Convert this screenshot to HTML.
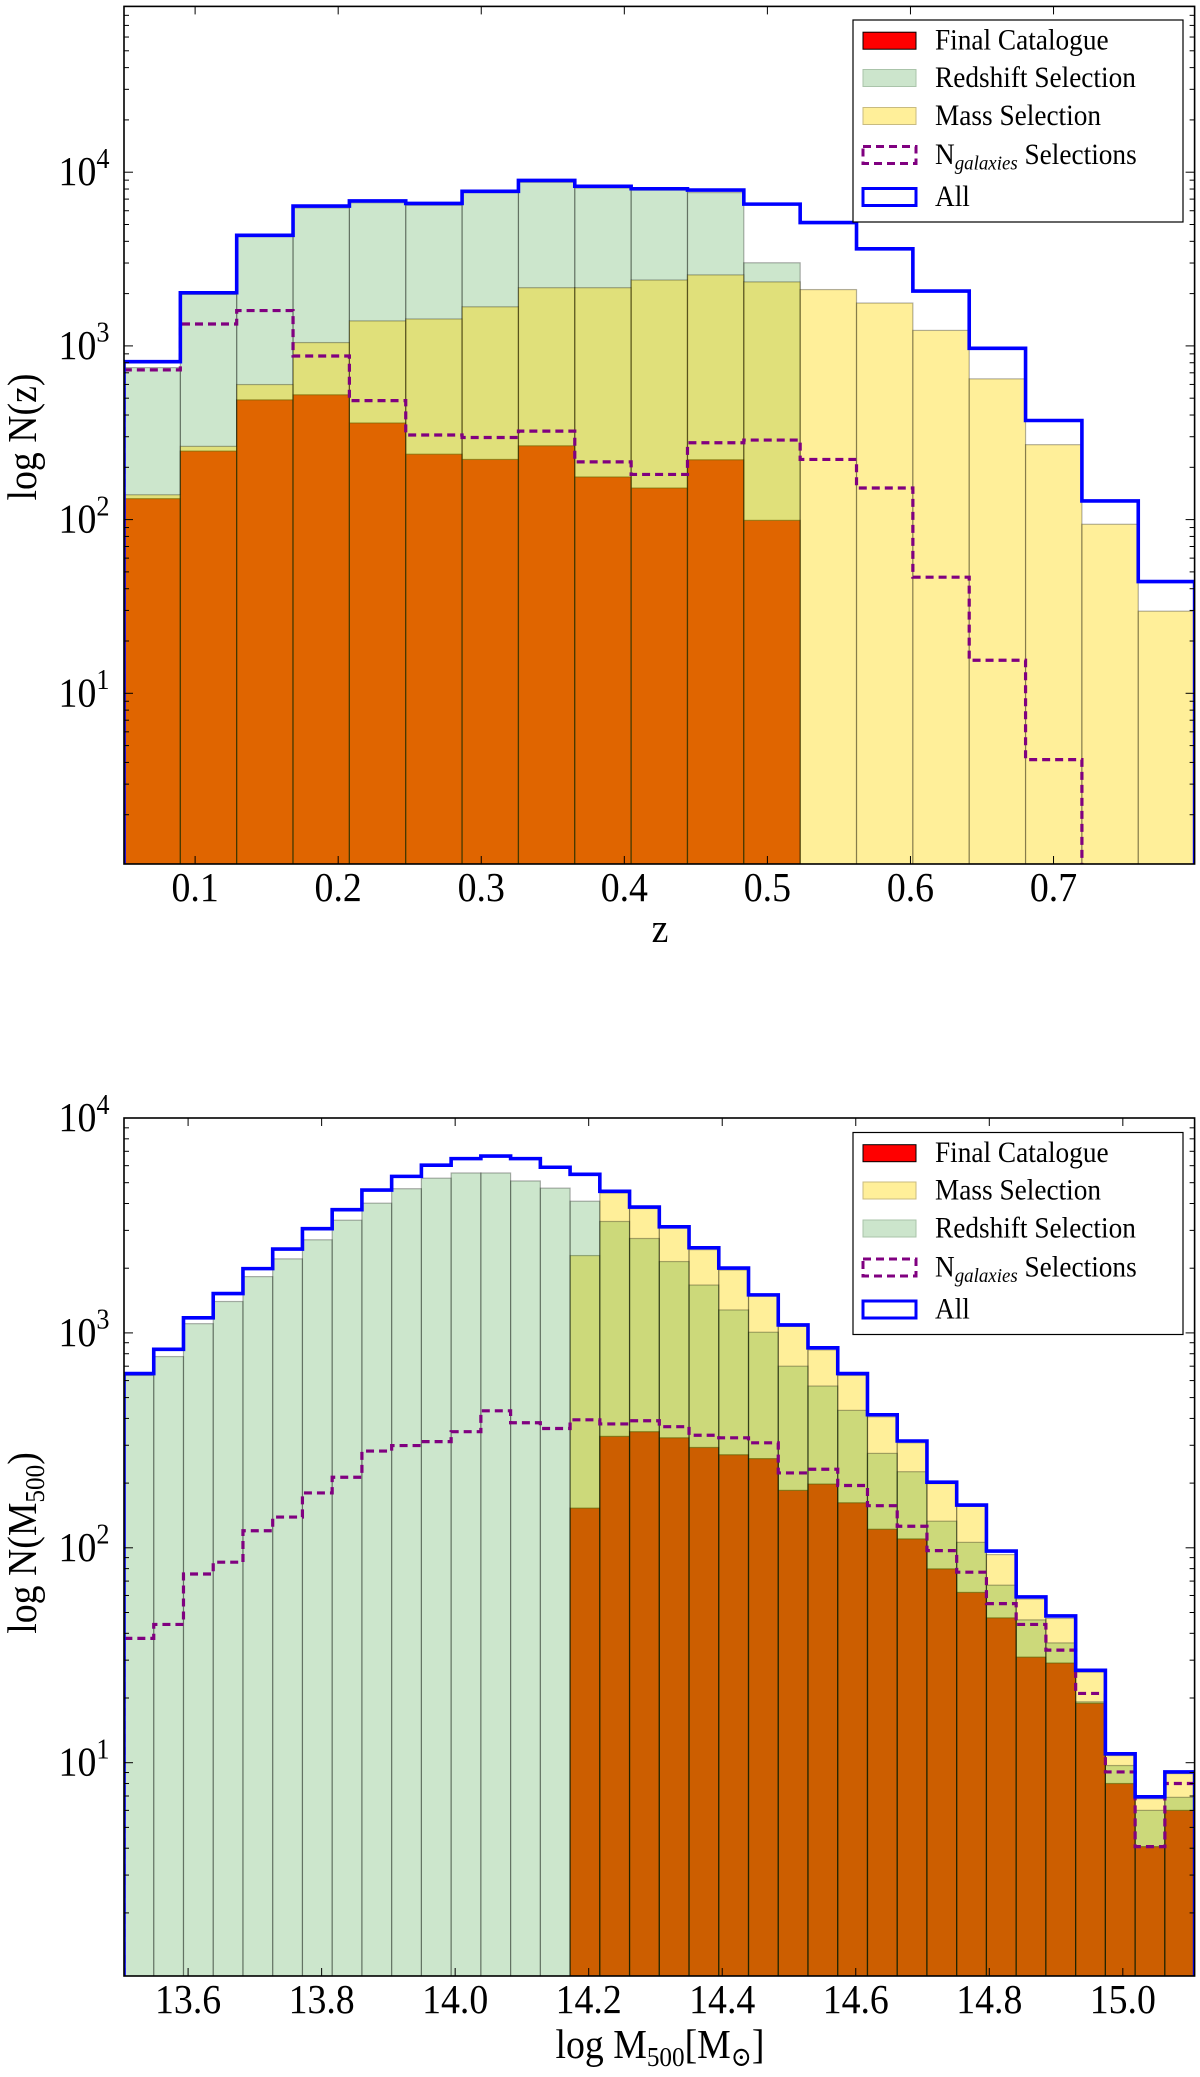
<!DOCTYPE html>
<html><head><meta charset="utf-8"><style>
html,body{margin:0;padding:0;background:#fff;}
svg{display:block;}
text{font-family:"Liberation Serif","DejaVu Serif",serif;fill:#000;}
</style></head><body>
<svg id="fig" width="1200" height="2077" viewBox="0 0 1200 2077" xmlns="http://www.w3.org/2000/svg">
<defs>
<clipPath id="clipTop"><rect x="124" y="6.4" width="1070.6" height="857.6"/></clipPath>
<clipPath id="clipBot"><rect x="124" y="1118" width="1070.6" height="858"/></clipPath>
</defs>
<g id="topPanel"></g>
<g id="botPanel"></g>
</svg>
<script>
// ---- Top panel data (redshift) ----
const zMin = 0.0503, zMax = 0.7986, zBins = 19;
const zTicks = [0.1, 0.2, 0.3, 0.4, 0.5, 0.6, 0.7];
const zTickLabels = ["0.1","0.2","0.3","0.4","0.5","0.6","0.7"];
const zAll = [811,2023,4330,6380,6830,6610,7760,8960,8300,8030,7890,6550,5130,3620,2070,968,372,128,44];
const zRedshift = [750,1980,4260,6230,6670,6450,7630,8740,8100,7890,7630,3010,0,0,0,0,0,0,0];
const zMass = [139,264,599,1045,1393,1429,1679,2163,2163,2395,2563,2336,2110,1765,1228,646,270,94,29.7];
const zFinal = [132,248,489,523,360,238,222,266,176,152,221,99,0,0,0,0,0,0,0];
const zNgal = [728,1337,1597,875,484,307,297,323,215,182,277,287,222,152,46.6,15.5,4.15,0,0];

// ---- Bottom panel data (mass) ----
const mMin = 13.504, mMax = 15.1075, mBins = 36;
const mTicks = [13.6, 13.8, 14.0, 14.2, 14.4, 14.6, 14.8, 15.0];
const mTickLabels = ["13.6","13.8","14.0","14.2","14.4","14.6","14.8","15.0"];
const mAll = [647,839,1175,1524,1991,2455,3054,3744,4620,5350,6030,6470,6650,6470,5900,5470,4560,3850,3118,2490,2003,1503,1089,852,647,416,314,202,158,96.6,59.1,48.2,26.9,11.0,6.94,9.06];
const mRedshift = [634,776,1104,1400,1828,2211,2712,3345,4015,4688,5248,5550,5550,5095,4717,4100,3300,2750,2148,1670,1279,1007,700,566,436,275,226,133,106,67,46.2,36.1,19.2,9.7,6.0,6.9];
const mMass = [0,0,0,0,0,0,0,0,0,0,0,0,0,0,0,2290,4480,3790,3095,2440,1963,1483,1072,834,634,407,308,199,156,93,57.8,46.9,26.4,10.8,6.8,8.9];
const mFinal = [0,0,0,0,0,0,0,0,0,0,0,0,0,0,0,153,330,347,325,293,271,260,185,198,162,122,110,79.8,62,47.2,31,29.1,18.9,8.0,4.07,6.0];
const mNgal = [37.9,44,75.5,85.7,120,139,180,213,282,299,312,347,434,382,359,394,377,390,366,334,325,308,223,232,195,157,126,97,77,55,44,33.4,21,9.06,4.07,8.0];

const yTickExp = [1,2,3,4];
const NS = "http://www.w3.org/2000/svg";
function mk(parent, tag, attrs){const e=document.createElementNS(NS,tag);for(const k in attrs)e.setAttribute(k,attrs[k]);parent.appendChild(e);return e;}

function panel(g, cfg){
  const {x0,x1,y0,y1,dMin,dMax,nb,yAt4,dec,clip} = cfg;
  const xs = v => x0 + (v-dMin)/(dMax-dMin)*(x1-x0);
  const ys = v => v>0 ? Math.min(y1, yAt4 + (4-Math.log10(v))*dec) : y1;
  const bw = (dMax-dMin)/nb;
  const edge = i => xs(dMin + i*bw);
  const bars = mk(g,'g',{'clip-path':`url(#${clip})`});
  
  
  function drawBars(arr, fill, op, stroke, name){
    arr.forEach((v,i)=>{
      if(!(v>0)) return;
      const xa=edge(i), xb=edge(i+1), y=ys(v);
      const r=mk(bars,'rect',{x:xa,y:y,width:xb-xa,height:y1-y,fill:fill,'fill-opacity':op,stroke:stroke,'stroke-width':1.2});
      
      
    });
  }
  cfg.order.forEach(o=>drawBars(o.data,o.fill,o.op,o.stroke,o.name));
  function step(arr, attrs, name){
    let d=`M${edge(0)},${y1}`;
    let ended=false;
    for(let i=0;i<arr.length;i++){
      const v=arr[i];
      if(!(v>0)){ d+=` L${edge(i)},${y1}`; ended=true; break; }
      const y=ys(v); d+=` L${edge(i)},${y} L${edge(i+1)},${y}`;
    }
    if(!ended) d+=` L${edge(arr.length)},${y1}`;
    const p=mk(bars,'path',Object.assign({d:d,fill:'none'},attrs));
    
    
  }
  step(cfg.ngal,{stroke:'#800080','stroke-width':3.2,'stroke-dasharray':'8,5'},'ngalaxies-step-line');
  step(cfg.all,{stroke:'#0000ff','stroke-width':3.6,'stroke-linejoin':'miter'},'all-step-line');
  const fr=mk(g,'rect',{x:x0,y:y0,width:x1-x0,height:y1-y0,fill:'none',stroke:'#000','stroke-width':1.6});
  
  
  cfg.xt.forEach((t,i)=>{
    const x=xs(t);
    mk(g,'line',{x1:x,y1:y1,x2:x,y2:y1-8,stroke:'#000','stroke-width':1});
    mk(g,'line',{x1:x,y1:y0,x2:x,y2:y0+8,stroke:'#000','stroke-width':1});
    const tx=mk(g,'text',{transform:`translate(${x},${y1+37}) scale(1.05,1.15)`,'text-anchor':'middle','font-size':36});
    tx.textContent=cfg.xl[i];
    
    
  });
  for(let e=0;e<=5;e++){
    for(let m=1;m<=9;m++){
      const v=m*Math.pow(10,e); const y=yAt4+(4-Math.log10(v))*dec;
      if(y<y0-0.5||y>y1+0.5) continue;
      const L=m===1?9:5;
      mk(g,'line',{x1:x0,y1:y,x2:x0+L,y2:y,stroke:'#000','stroke-width':1});
      mk(g,'line',{x1:x1,y1:y,x2:x1-L,y2:y,stroke:'#000','stroke-width':1});
    }
  }
  yTickExp.forEach(e=>{
    const y=yAt4+(4-e)*dec;
    const tx=mk(g,'text',{transform:`translate(${x0-40},${y+13}) scale(1.05,1.15)`,'text-anchor':'middle','font-size':36});
    
    
    const a=mk(tx,'tspan',{}); a.textContent='10';
    const b=mk(tx,'tspan',{dy:-15,'font-size':25}); b.textContent=String(e);
  });
}

function legend(g, bx, by, entries){
  const lg=mk(g,'g',{});
  
  
  mk(lg,'rect',{x:bx,y:by,width:330,height:202,fill:'#fff',stroke:'#000','stroke-width':1.2});
  const offs=[20.7,58,96,135,177];
  entries.forEach((en,i)=>{
    const cy=by+offs[i];
    const it=mk(lg,'g',{});
    
    
    if(en.type==='fill') mk(it,'rect',{x:bx+10,y:cy-8.5,width:53,height:17,fill:en.fill,stroke:en.stroke,'stroke-width':1});
    else mk(it,'rect',{x:bx+10,y:cy-8.5,width:53,height:17,fill:'none',stroke:en.stroke,'stroke-width':3,'stroke-dasharray':en.dash||'none'});
    const t=mk(it,'text',{transform:`translate(${bx+82},${cy+9}) scale(1.05,1.12)`,'font-size':26});
    if(en.key==='ngal'){
      const a=mk(t,'tspan',{}); a.textContent='N';
      const b=mk(t,'tspan',{'font-size':18,'font-style':'italic',dy:5}); b.textContent='galaxies';
      const c=mk(t,'tspan',{dy:-5}); c.textContent=' Selections';
    } else t.textContent=en.label;
  });
}

const topG=document.getElementById('topPanel'), botG=document.getElementById('botPanel');
const RED='#ff0000', GRN='#008000', YEL='#ffd700', EDGE='rgba(0,0,0,0.3)';
panel(topG,{x0:124,x1:1194.6,y0:6.4,y1:864,dMin:zMin,dMax:zMax,nb:zBins,yAt4:172.2,dec:173.7,clip:'clipTop',
  order:[{data:zFinal,fill:RED,op:1,stroke:'rgba(0,0,0,0.55)',name:'final'},{data:zRedshift,fill:GRN,op:0.2,stroke:EDGE,name:'redshift'},{data:zMass,fill:YEL,op:0.4,stroke:EDGE,name:'mass'}],
  ngal:zNgal,all:zAll,xt:zTicks,xl:zTickLabels});
panel(botG,{x0:124,x1:1194.6,y0:1118,y1:1976,dMin:mMin,dMax:mMax,nb:mBins,yAt4:1118,dec:214.9,clip:'clipBot',
  order:[{data:mFinal,fill:RED,op:1,stroke:'rgba(0,0,0,0.55)',name:'final'},{data:mMass,fill:YEL,op:0.4,stroke:EDGE,name:'mass'},{data:mRedshift,fill:GRN,op:0.2,stroke:EDGE,name:'redshift'}],
  ngal:mNgal,all:mAll,xt:mTicks,xl:mTickLabels});

const eFinal={key:'final',type:'fill',fill:'#ff0000',stroke:'#000',label:'Final Catalogue'};
const eRed={key:'redshift',type:'fill',fill:'#cce5cc',stroke:'#aac4aa',label:'Redshift Selection'};
const eMass={key:'mass',type:'fill',fill:'#ffef99',stroke:'#c8bb80',label:'Mass Selection'};
const eNgal={key:'ngal',type:'line',stroke:'#800080',dash:'8,5'};
const eAll={key:'all',type:'line',stroke:'#0000ff',label:'All'};
legend(topG,853,20,[eFinal,eRed,eMass,eNgal,eAll]);
legend(botG,853,1132.5,[eFinal,eMass,eRed,eNgal,eAll]);

function title(g,txt,x,y,rot,name,parts){
  const t=mk(g,'text',{transform:`translate(${x},${y}) rotate(${rot}) scale(1.05,1.15)`,'text-anchor':'middle','font-size':36});
  
  
  if(parts){parts.forEach(p=>{const s=mk(t,'tspan',p.a||{});s.textContent=p.t;});}
  else t.textContent=txt;
}
title(topG,'z',660,942,0,'x-axis-title');
title(topG,'log N(z)',36,437,-90,'y-axis-title');
title(botG,'',660,2058,0,'x-axis-title',[{t:'log M'},{t:'500',a:{'font-size':24,dy:7}},{t:'[M',a:{dy:-7}},{t:'⊙',a:{'font-size':24,dy:7}},{t:']',a:{dy:-7}}]);
title(botG,'',36,1543,-90,'y-axis-title',[{t:'log N(M'},{t:'500',a:{'font-size':24,dy:7}},{t:')',a:{dy:-7}}]);
</script>
</body></html>
